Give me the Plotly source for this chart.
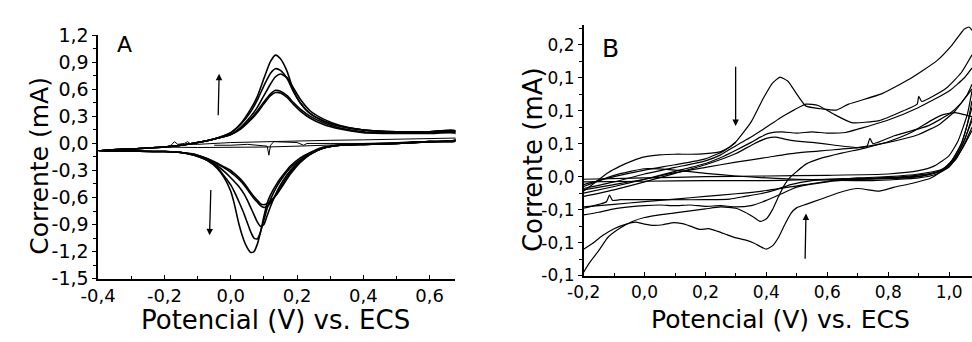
import plotly.graph_objects as go

# ---------------- Panel A data (Potencial V, Corrente mA) ----------------
A_FWD_X = [-0.40, -0.30, -0.20, -0.15, -0.10, -0.05, 0.00, 0.03, 0.06, 0.08, 0.10, 0.12,
           0.135, 0.15, 0.17, 0.19, 0.21, 0.24, 0.28, 0.33, 0.40, 0.50, 0.60, 0.68]
A_FWD_Y1 = [-0.08, -0.06, -0.04, -0.02, 0.01, 0.05, 0.12, 0.22, 0.38, 0.52, 0.72, 0.91,
            0.98, 0.94, 0.80, 0.58, 0.45, 0.33, 0.25, 0.19, 0.15, 0.13, 0.13, 0.14]
A_FWD_Y2 = [-0.08, -0.06, -0.04, -0.02, 0.01, 0.05, 0.12, 0.21, 0.35, 0.48, 0.64, 0.78,
            0.83, 0.81, 0.72, 0.57, 0.45, 0.33, 0.25, 0.19, 0.15, 0.13, 0.13, 0.14]
A_FWD_Y3 = [-0.08, -0.06, -0.04, -0.02, 0.01, 0.05, 0.10, 0.18, 0.30, 0.40, 0.53, 0.66,
            0.74, 0.77, 0.73, 0.61, 0.49, 0.36, 0.27, 0.20, 0.15, 0.13, 0.13, 0.13]
A_FWD_Y4 = [-0.08, -0.06, -0.04, -0.02, 0.01, 0.05, 0.10, 0.17, 0.27, 0.36, 0.46, 0.55,
            0.59, 0.58, 0.53, 0.45, 0.38, 0.30, 0.23, 0.17, 0.13, 0.12, 0.12, 0.12]
A_FWD_Y5 = [-0.08, -0.06, -0.04, -0.02, 0.01, 0.05, 0.10, 0.16, 0.26, 0.34, 0.44, 0.53,
            0.565, 0.56, 0.51, 0.43, 0.36, 0.28, 0.21, 0.16, 0.12, 0.11, 0.11, 0.11]

A_REV_X = [0.68, 0.60, 0.50, 0.40, 0.33, 0.28, 0.24, 0.21, 0.18, 0.16, 0.14, 0.12, 0.11,
           0.10, 0.09, 0.08, 0.07, 0.06, 0.05, 0.04, 0.025, 0.01, 0.00, -0.02, -0.04,
           -0.07, -0.11, -0.15, -0.20, -0.30, -0.40]
A_REV_Y1 = [0.04, 0.02, 0.00, -0.01, -0.02, -0.04, -0.10, -0.16, -0.25, -0.34, -0.44, -0.57,
            -0.66, -0.81, -0.98, -1.12, -1.20, -1.21, -1.16, -1.08, -0.90, -0.66, -0.53,
            -0.38, -0.28, -0.19, -0.13, -0.10, -0.09, -0.085, -0.08]
A_REV_Y2 = [0.04, 0.02, 0.00, -0.01, -0.02, -0.05, -0.11, -0.18, -0.27, -0.36, -0.47, -0.62,
            -0.72, -0.85, -0.98, -1.06, -1.05, -0.98, -0.88, -0.78, -0.65, -0.53, -0.46,
            -0.36, -0.27, -0.19, -0.13, -0.10, -0.09, -0.085, -0.08]
A_REV_Y3 = [0.04, 0.02, 0.00, -0.01, -0.02, -0.05, -0.11, -0.19, -0.30, -0.40, -0.53, -0.70,
            -0.80, -0.90, -0.92, -0.87, -0.79, -0.71, -0.63, -0.56, -0.48, -0.42, -0.38,
            -0.31, -0.25, -0.18, -0.13, -0.10, -0.09, -0.085, -0.08]
A_REV_Y4 = [0.03, 0.02, 0.00, -0.01, -0.02, -0.05, -0.12, -0.20, -0.32, -0.43, -0.55, -0.66,
            -0.70, -0.71, -0.69, -0.65, -0.61, -0.56, -0.51, -0.46, -0.40, -0.35, -0.32,
            -0.27, -0.23, -0.17, -0.12, -0.10, -0.09, -0.085, -0.08]
A_REV_Y5 = [0.03, 0.02, 0.00, -0.01, -0.02, -0.05, -0.12, -0.21, -0.34, -0.45, -0.56, -0.64,
            -0.67, -0.68, -0.67, -0.63, -0.59, -0.54, -0.49, -0.44, -0.38, -0.33, -0.30,
            -0.26, -0.22, -0.17, -0.12, -0.10, -0.09, -0.085, -0.08]

A_BLANK_X = [-0.20, -0.18, -0.17, -0.16, -0.14, -0.13, -0.12, -0.10, 0.00, 0.10, 0.20, 0.30,
             0.40, 0.50, 0.60, 0.68, 0.68, 0.60, 0.50, 0.40, 0.30, 0.20, 0.10, 0.00, -0.10, -0.20]
A_BLANK_Y = [-0.04, -0.02, 0.02, -0.01, 0.00, 0.02, -0.01, -0.01, 0.01, 0.02, 0.03, 0.035,
             0.04, 0.045, 0.05, 0.06, 0.03, 0.02, 0.00, -0.01, -0.02, -0.03, -0.04, -0.045,
             -0.045, -0.04]
A_NOISE_X = [-0.05, 0.00, 0.05, 0.10, 0.11, 0.115, 0.12, 0.13, 0.20, 0.22, 0.23, 0.30, 0.40,
             0.50, 0.55, 0.60, 0.68]
A_NOISE_Y = [-0.02, -0.02, -0.01, -0.02, -0.03, -0.13, -0.02, 0.02, 0.01, -0.02, 0.00, 0.00,
             0.00, 0.01, 0.02, 0.02, 0.03]

A_XTICKS = [-0.4, -0.2, 0.0, 0.2, 0.4, 0.6]
A_XTEXT = ["-0,4", "-0,2", "0,0", "0,2", "0,4", "0,6"]
A_YTICKS = [-1.5, -1.2, -0.9, -0.6, -0.3, 0.0, 0.3, 0.6, 0.9, 1.2]
A_YTEXT = ["-1,5", "-1,2", "-0,9", "-0,6", "-0,3", "0,0", "0,3", "0,6", "0,9", "1,2"]

# ---------------- Panel B data ----------------
B_L1_X = [-0.20, -0.10, 0.00, 0.10, 0.20, 0.26, 0.30, 0.35, 0.39, 0.42, 0.445, 0.47, 0.49,
          0.53, 0.58, 0.63, 0.67, 0.78, 0.87, 0.96, 1.01, 1.05, 1.065, 1.075]
B_L1_Y = [-0.012, 0.000, 0.010, 0.018, 0.027, 0.039, 0.053, 0.083, 0.119, 0.142, 0.151, 0.145,
          0.132, 0.107, 0.103, 0.101, 0.110, 0.126, 0.148, 0.176, 0.200, 0.224, 0.227, 0.222]
B_L2_X = [-0.20, -0.10, 0.00, 0.10, 0.20, 0.25, 0.30, 0.35, 0.39, 0.46, 0.53, 0.57, 0.62, 0.68,
          0.77, 0.85, 0.895, 0.90, 0.91, 0.99, 1.04, 1.075]
B_L2_Y = [-0.018, -0.008, 0.004, 0.014, 0.024, 0.033, 0.047, 0.060, 0.072, 0.093, 0.110, 0.108,
          0.095, 0.082, 0.085, 0.100, 0.110, 0.122, 0.114, 0.134, 0.158, 0.185]
B_L3_X = [-0.20, -0.10, 0.00, 0.10, 0.20, 0.26, 0.30, 0.35, 0.38, 0.41, 0.45, 0.50, 0.55, 0.60,
          0.66, 0.70, 0.80, 0.90, 1.00, 1.05, 1.075]
B_L3_Y = [-0.025, -0.015, -0.004, 0.008, 0.020, 0.031, 0.040, 0.052, 0.060, 0.066, 0.068, 0.066,
          0.068, 0.066, 0.067, 0.072, 0.086, 0.105, 0.130, 0.150, 0.165]
B_L4_X = [-0.20, -0.10, 0.00, 0.10, 0.20, 0.30, 0.36, 0.40, 0.43, 0.46, 0.50, 0.55, 0.62, 0.70,
          0.73, 0.74, 0.75, 0.82, 0.93, 1.00, 1.04, 1.075]
B_L4_Y = [-0.030, -0.020, -0.008, 0.005, 0.018, 0.035, 0.050, 0.058, 0.060, 0.057, 0.054, 0.052,
          0.048, 0.044, 0.046, 0.058, 0.050, 0.062, 0.077, 0.095, 0.112, 0.133]
B_L5_X = [-0.20, -0.10, 0.00, 0.10, 0.20, 0.30, 0.40, 0.50, 0.60, 0.70, 0.80, 0.90, 0.97, 1.02,
          1.06, 1.075]
B_L5_Y = [-0.020, -0.012, -0.004, 0.006, 0.014, 0.022, 0.029, 0.036, 0.040, 0.044, 0.052, 0.064,
          0.080, 0.100, 0.125, 0.140]
B_L6_X = [-0.20, 0.00, 0.20, 0.40, 0.60, 0.80, 0.90, 0.95, 1.00, 1.03, 1.06, 1.075]
B_L6_Y = [-0.004, -0.002, 0.000, 0.001, 0.002, 0.004, 0.009, 0.016, 0.032, 0.055, 0.095, 0.130]
B_L7_X = [-0.20, 0.00, 0.20, 0.40, 0.50, 0.60, 0.75, 0.90, 0.97, 1.01, 1.04, 1.06, 1.075]
B_L7_Y = [-0.008, -0.007, -0.006, -0.006, -0.005, -0.004, -0.004, 0.000, 0.008, 0.025, 0.050,
          0.080, 0.105]
B_L8_X = [-0.20, -0.10, 0.00, 0.10, 0.20, 0.30, 0.40, 0.50, 0.60, 0.75, 0.90, 0.96, 1.00, 1.04,
          1.075]
B_L8_Y = [-0.015, 0.002, 0.012, 0.010, 0.005, 0.001, -0.002, -0.004, -0.005, -0.006, -0.002,
          0.004, 0.015, 0.045, 0.085]
B_L9_X = [-0.20, -0.10, 0.00, 0.10, 0.20, 0.30, 0.40, 0.50, 0.60, 0.70, 0.80, 0.90, 0.97, 1.02,
          1.05, 1.075]
B_L9_Y = [-0.046, -0.042, -0.038, -0.034, -0.030, -0.026, -0.021, -0.014, -0.007, -0.002, 0.000,
          0.004, 0.010, 0.025, 0.050, 0.075]
B_L10_X = [-0.20, -0.15, -0.125, -0.115, -0.105, -0.08, 0.00, 0.10, 0.20, 0.28, 0.33, 0.38,
           0.43, 0.48, 0.55, 0.65, 0.80, 0.92, 0.98, 1.02, 1.05, 1.075]
B_L10_Y = [-0.048, -0.042, -0.038, -0.028, -0.036, -0.035, -0.035, -0.035, -0.035, -0.034,
           -0.030, -0.026, -0.020, -0.012, -0.006, -0.003, -0.002, 0.002, 0.010, 0.028, 0.055,
           0.090]
B_L11_X = [-0.20, -0.15, -0.10, -0.05, 0.00, 0.05, 0.10, 0.15, 0.20, 0.25, 0.30, 0.35, 0.40,
           0.45, 0.50, 0.60, 0.70, 0.85, 0.95, 1.00, 1.04, 1.075]
B_L11_Y = [-0.058, -0.054, -0.049, -0.046, -0.044, -0.043, -0.044, -0.043, -0.045, -0.044,
           -0.046, -0.044, -0.036, -0.026, -0.016, -0.008, -0.004, 0.000, 0.006, 0.015, 0.040,
           0.070]
B_L12_X = [-0.20, -0.16, -0.12, -0.08, -0.04, 0.00, 0.05, 0.10, 0.15, 0.20, 0.25, 0.28, 0.30]
B_L12_Y = [-0.022, -0.008, 0.006, 0.016, 0.024, 0.030, 0.033, 0.034, 0.034, 0.035, 0.038, 0.045,
           0.052]
B_W1_X = [-0.20, -0.17, -0.14, -0.10, -0.06, -0.03, 0.00, 0.03, 0.06, 0.09, 0.12, 0.15, 0.18,
          0.21, 0.24, 0.27, 0.30, 0.33, 0.36, 0.38, 0.40, 0.42, 0.44, 0.46, 0.48, 0.50, 0.53,
          0.58, 0.64, 0.70, 0.77, 0.82, 0.88, 0.94, 0.98, 1.01, 1.04, 1.06, 1.075]
B_W1_Y = [-0.110, -0.101, -0.090, -0.079, -0.072, -0.069, -0.072, -0.074, -0.073, -0.070,
          -0.071, -0.075, -0.080, -0.079, -0.083, -0.088, -0.093, -0.096, -0.101, -0.106,
          -0.110, -0.105, -0.092, -0.073, -0.056, -0.047, -0.042, -0.034, -0.024, -0.018,
          -0.022, -0.016, -0.010, -0.002, 0.010, 0.025, 0.050, 0.080, 0.115]
B_W2_X = [-0.20, -0.18, -0.15, -0.12, -0.08, -0.04, 0.00, 0.05, 0.10, 0.15, 0.20, 0.25, 0.30,
          0.33, 0.36, 0.38, 0.40, 0.42, 0.44, 0.46, 0.48, 0.50, 0.53, 0.58, 0.65, 0.72, 0.80,
          0.88, 0.94, 0.98, 1.02, 1.05, 1.075]
B_W2_Y = [-0.145, -0.130, -0.112, -0.092, -0.078, -0.068, -0.062, -0.058, -0.055, -0.052,
          -0.049, -0.046, -0.048, -0.054, -0.062, -0.068, -0.064, -0.050, -0.030, -0.012,
          0.000, 0.008, 0.019, 0.028, 0.036, 0.043, 0.053, 0.068, 0.085, 0.094, 0.097, 0.094,
          0.091]

B_XTICKS = [-0.2, 0.0, 0.2, 0.4, 0.6, 0.8, 1.0]
B_XTEXT = ["-0,2", "0,0", "0,2", "0,4", "0,6", "0,8", "1,0"]
B_YTICKS = [-0.15, -0.10, -0.05, 0.0, 0.05, 0.10, 0.15, 0.20]
B_YTEXT = ["-0,1", "-0,1", "-0,1", "0,0", "0,1", "0,1", "0,1", "0,2"]

FONT = "DejaVu Sans"

fig = go.Figure()

A_FWD = [A_FWD_Y1, A_FWD_Y2, A_FWD_Y3, A_FWD_Y4, A_FWD_Y5]
A_REV = [A_REV_Y1, A_REV_Y2, A_REV_Y3, A_REV_Y4, A_REV_Y5]
for fy, ry in zip(A_FWD, A_REV):
    fig.add_trace(go.Scatter(x=A_FWD_X + A_REV_X, y=fy + ry, xaxis="x", yaxis="y",
                             mode="lines",
                             line=dict(color="black", width=1.6, shape="spline", smoothing=0.6)))
fig.add_trace(go.Scatter(x=A_BLANK_X, y=A_BLANK_Y, xaxis="x", yaxis="y", mode="lines",
                         line=dict(color="black", width=1.0)))
fig.add_trace(go.Scatter(x=A_NOISE_X, y=A_NOISE_Y, xaxis="x", yaxis="y", mode="lines",
                         line=dict(color="black", width=1.0)))

B_LINES = [(B_L1_X, B_L1_Y), (B_L2_X, B_L2_Y), (B_L3_X, B_L3_Y), (B_L4_X, B_L4_Y),
           (B_L5_X, B_L5_Y), (B_L6_X, B_L6_Y), (B_L7_X, B_L7_Y), (B_L8_X, B_L8_Y),
           (B_L9_X, B_L9_Y), (B_L10_X, B_L10_Y), (B_L11_X, B_L11_Y), (B_L12_X, B_L12_Y),
           (B_W1_X, B_W1_Y), (B_W2_X, B_W2_Y)]
for bx, by in B_LINES:
    fig.add_trace(go.Scatter(x=bx, y=by, xaxis="x2", yaxis="y2", mode="lines",
                             line=dict(color="black", width=1.2, shape="spline", smoothing=0.5)))

W, H = 972, 342


def px(xp):
    return xp / W


def py(yp):
    return 1 - yp / H


def axis(size, **kw):
    d = dict(showline=True, linecolor="black", linewidth=1.5, showgrid=False,
             zeroline=False, tickcolor="black", tickwidth=1.2, ticklen=4,
             tickmode="array", tickfont=dict(family=FONT, size=size, color="black"),
             mirror=False)
    d.update(kw)
    return d


fig.update_layout(
    width=W, height=H, margin=dict(l=0, r=0, t=0, b=0),
    paper_bgcolor="white", plot_bgcolor="white", showlegend=False,
    font=dict(family=FONT, color="black", size=18),
    xaxis=axis(18, domain=[px(81.7), px(445.7)], range=[-0.4, 0.678], anchor="y",
               tickvals=A_XTICKS, ticktext=A_XTEXT, ticks="inside",
               minor=dict(dtick=0.1, tick0=0, ticklen=3, ticks="inside", tickcolor="black")),
    yaxis=axis(19, domain=[py(286), py(26)], range=[-1.5, 1.2], anchor="x",
               tickvals=A_YTICKS, ticktext=A_YTEXT, ticks="outside",
               minor=dict(dtick=0.15, tick0=0, ticklen=3, ticks="outside", tickcolor="black")),
    xaxis2=axis(17, domain=[px(576.3), 1.0], range=[-0.2, 1.075], anchor="y2",
                tickvals=B_XTICKS, ticktext=B_XTEXT, ticks="inside",
                minor=dict(dtick=0.1, tick0=0, ticklen=3, ticks="inside", tickcolor="black")),
    yaxis2=axis(17, domain=[py(282.7), py(15)], range=[-0.15, 0.23], anchor="x2",
                tickvals=B_YTICKS, ticktext=B_YTEXT, ticks="outside",
                minor=dict(dtick=0.025, tick0=0, ticklen=3, ticks="outside", tickcolor="black")),
)

ann = []
# axis titles
ann.append(dict(text="Potencial (V) vs. ECS", x=px(262.5), y=py(330), xref="paper", yref="paper",
                xanchor="center", yanchor="middle", showarrow=False,
                font=dict(family=FONT, size=26, color="black")))
ann.append(dict(text="Potencial (V) vs. ECS", x=px(777), y=py(330), xref="paper", yref="paper",
                xanchor="center", yanchor="middle", showarrow=False,
                font=dict(family=FONT, size=25, color="black")))
ann.append(dict(text="Corrente (mA)", x=px(21.7), y=py(165), xref="paper", yref="paper",
                xanchor="center", yanchor="middle", showarrow=False, textangle=-90,
                font=dict(family=FONT, size=25, color="black")))
ann.append(dict(text="Corrente (mA)", x=px(524), y=py(159), xref="paper", yref="paper",
                xanchor="center", yanchor="middle", showarrow=False, textangle=-90,
                font=dict(family=FONT, size=26, color="black")))
# panel letters
ann.append(dict(text="A", x=px(109), y=py(36), xref="paper", yref="paper",
                xanchor="center", yanchor="middle", showarrow=False,
                font=dict(family=FONT, size=22, color="black")))
ann.append(dict(text="B", x=px(604), y=py(40), xref="paper", yref="paper",
                xanchor="center", yanchor="middle", showarrow=False,
                font=dict(family=FONT, size=25, color="black")))
# arrows
arrow_style = dict(text="", showarrow=True, arrowhead=2, arrowsize=1, arrowwidth=1.3,
                   arrowcolor="black")
ann.append(dict(x=-0.035, y=0.774, ax=-0.038, ay=0.296, xref="x", yref="y",
                axref="x", ayref="y", **arrow_style))
ann.append(dict(x=-0.064, y=-1.02, ax=-0.060, ay=-0.50, xref="x", yref="y",
                axref="x", ayref="y", **arrow_style))
ann.append(dict(x=0.299, y=0.077, ax=0.299, ay=0.169, xref="x2", yref="y2",
                axref="x2", ayref="y2", **arrow_style))
ann.append(dict(x=0.530, y=-0.056, ax=0.527, ay=-0.127, xref="x2", yref="y2",
                axref="x2", ayref="y2", **arrow_style))
fig.update_layout(annotations=ann)

fig.write_html("out.html")
